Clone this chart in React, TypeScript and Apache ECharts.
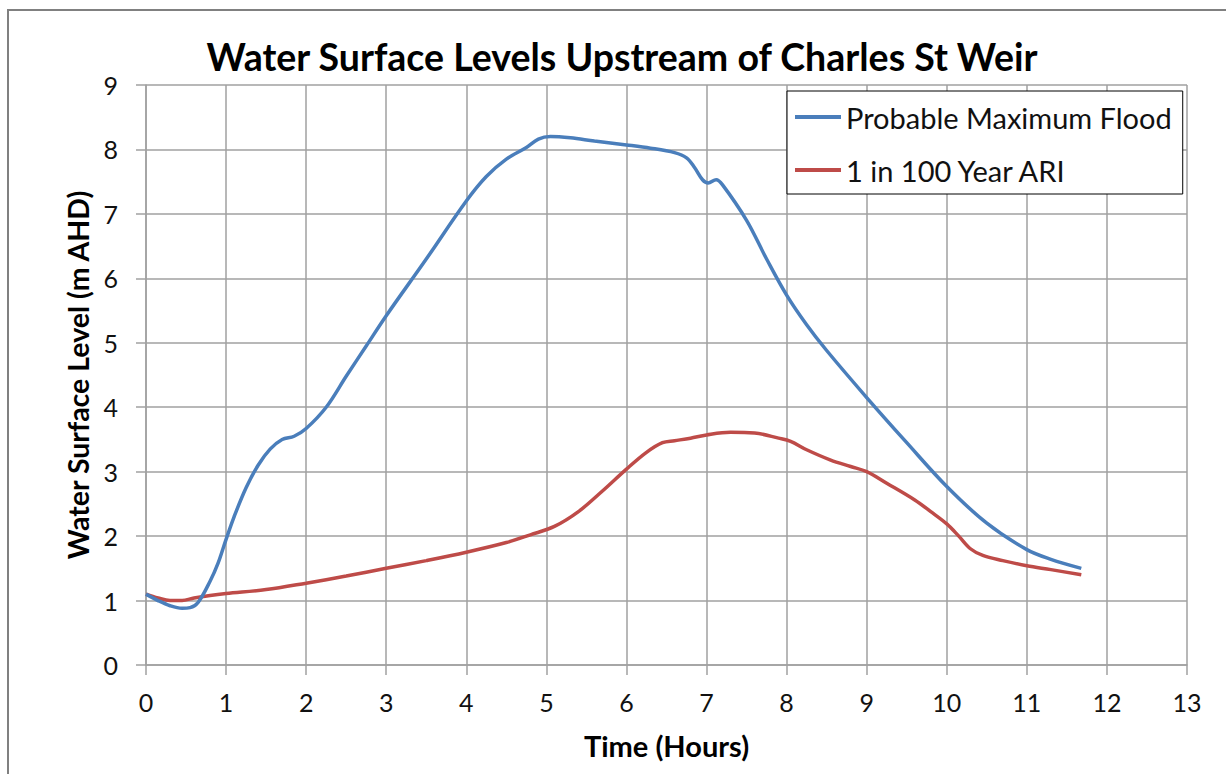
import React, { useEffect, useRef } from "react";
import * as echarts from "echarts";

const titleText = "Water Surface Levels Upstream of Charles St Weir";
const xAxisName = "Time (Hours)";
const yAxisName = "Water Surface Level (m AHD)";
const seriesNames = ["Probable Maximum Flood", "1 in 100 Year ARI"];

const pmfTime = [0, 0.15, 0.3, 0.45, 0.55, 0.65, 0.8, 0.9, 1.0, 1.1, 1.25, 1.4, 1.55, 1.7, 1.85, 2.0, 2.25, 2.5, 2.75, 3, 3.5, 4, 4.25, 4.5, 4.75, 4.9, 5.05, 5.3, 5.6, 6, 6.3, 6.6, 6.75, 6.85, 6.95, 7.02, 7.12, 7.2, 7.5, 7.75, 8, 8.25, 8.5, 9, 9.5, 10, 10.5, 11, 11.3, 11.68];
const pmfLevel = [1.1, 1.0, 0.92, 0.88, 0.89, 0.97, 1.3, 1.58, 1.95, 2.3, 2.75, 3.1, 3.35, 3.5, 3.55, 3.67, 4.0, 4.48, 4.95, 5.42, 6.3, 7.2, 7.58, 7.85, 8.03, 8.16, 8.2, 8.18, 8.13, 8.07, 8.02, 7.95, 7.87, 7.72, 7.53, 7.48, 7.53, 7.45, 6.9, 6.3, 5.74, 5.28, 4.88, 4.15, 3.45, 2.77, 2.2, 1.79, 1.64, 1.5];

const ariTime = [0, 0.15, 0.3, 0.45, 0.6, 0.8, 1, 1.5, 2, 2.5, 3, 3.5, 4, 4.5, 4.8, 5.1, 5.4, 5.7, 6, 6.25, 6.45, 6.6, 6.8, 7, 7.3, 7.6, 7.9, 8.05, 8.25, 8.55, 8.8, 9, 9.25, 9.6, 9.8, 10, 10.15, 10.3, 10.45, 10.7, 11, 11.3, 11.68];
const ariLevel = [1.1, 1.04, 1.0, 1.0, 1.04, 1.08, 1.11, 1.17, 1.27, 1.38, 1.5, 1.62, 1.75, 1.9, 2.02, 2.15, 2.38, 2.7, 3.04, 3.3, 3.45, 3.48, 3.52, 3.57, 3.61, 3.6, 3.52, 3.47, 3.34, 3.18, 3.08, 3.0, 2.82, 2.56, 2.38, 2.19, 2.0, 1.8, 1.7, 1.62, 1.54, 1.48, 1.4];

const seriesColors = ["#4a7ebb", "#be4b48"];

export default function App() {
  const ref = useRef<HTMLDivElement>(null);
  useEffect(() => {
    if (!ref.current) return;
    const chart = echarts.init(ref.current, undefined, { renderer: "svg" });
    const grey = "#a0a0a0";
    const font = "Lato";
    chart.setOption({
      animation: false,
      backgroundColor: "#ffffff",
      title: {
        text: titleText,
        left: 617,
        top: 32,
        textAlign: "center",
        textStyle: { fontFamily: font, fontWeight: "bold", fontSize: 37.5, color: "#000" },
      },
      graphic: [
        {
          type: "rect",
          shape: { x: 8, y: 10, width: 1300, height: 900 },
          style: { fill: "none", stroke: "#808080", lineWidth: 2 },
          silent: true,
        },
      ],
      legend: {
        orient: "vertical",
        left: 787,
        top: 91,
        backgroundColor: "#fff",
        borderColor: "#000",
        borderWidth: 1,
        padding: [11, 11, 9, 8],
        itemGap: 23,
        itemWidth: 46,
        itemHeight: 4,
        icon: "rect",
        textStyle: { fontFamily: font, fontSize: 29, color: "#111", lineHeight: 30 },
        data: seriesNames,
      },
      grid: { left: 146, top: 85, width: 1041, height: 580, containLabel: false },
      xAxis: {
        type: "value",
        min: 0,
        max: 13,
        interval: 1,
        name: xAxisName,
        nameLocation: "middle",
        nameGap: 66,
        nameTextStyle: { fontFamily: font, fontWeight: "bold", fontSize: 29, color: "#000" },
        axisLine: { show: true, lineStyle: { color: grey, width: 1.5 } },
        axisTick: { show: true, length: 10, inside: false, lineStyle: { color: grey, width: 1.5 } },
        axisLabel: { margin: 24, fontFamily: font, fontSize: 25, color: "#111" },
        splitLine: { show: true, lineStyle: { color: grey, width: 1.5 } },
      },
      yAxis: {
        type: "value",
        min: 0,
        max: 9,
        interval: 1,
        name: yAxisName,
        nameLocation: "middle",
        nameGap: 52,
        nameTextStyle: { fontFamily: font, fontWeight: "bold", fontSize: 28.5, color: "#000" },
        axisLine: { show: true, lineStyle: { color: grey, width: 1.5 } },
        axisTick: { show: true, length: 10, inside: false, lineStyle: { color: grey, width: 1.5 } },
        axisLabel: { margin: 28, fontFamily: font, fontSize: 25, color: "#111" },
        splitLine: { show: true, lineStyle: { color: grey, width: 1.5 } },
      },
      series: [
        {
          name: seriesNames[0],
          type: "line",
          data: pmfTime.map((t, i) => [t, pmfLevel[i]]),
          smooth: 0.35,
          showSymbol: false,
          symbol: "none",
          lineStyle: { color: seriesColors[0], width: 3.5 },
          itemStyle: { color: seriesColors[0] },
          z: 3,
        },
        {
          name: seriesNames[1],
          type: "line",
          data: ariTime.map((t, i) => [t, ariLevel[i]]),
          smooth: 0.35,
          showSymbol: false,
          symbol: "none",
          lineStyle: { color: seriesColors[1], width: 3.5 },
          itemStyle: { color: seriesColors[1] },
          z: 2,
        },
      ],
    });
    return () => chart.dispose();
  }, []);
  return (
    <div
      ref={ref}
      style={{ position: "fixed", left: 0, top: 0, width: 1226, height: 774 }}
    />
  );
}
